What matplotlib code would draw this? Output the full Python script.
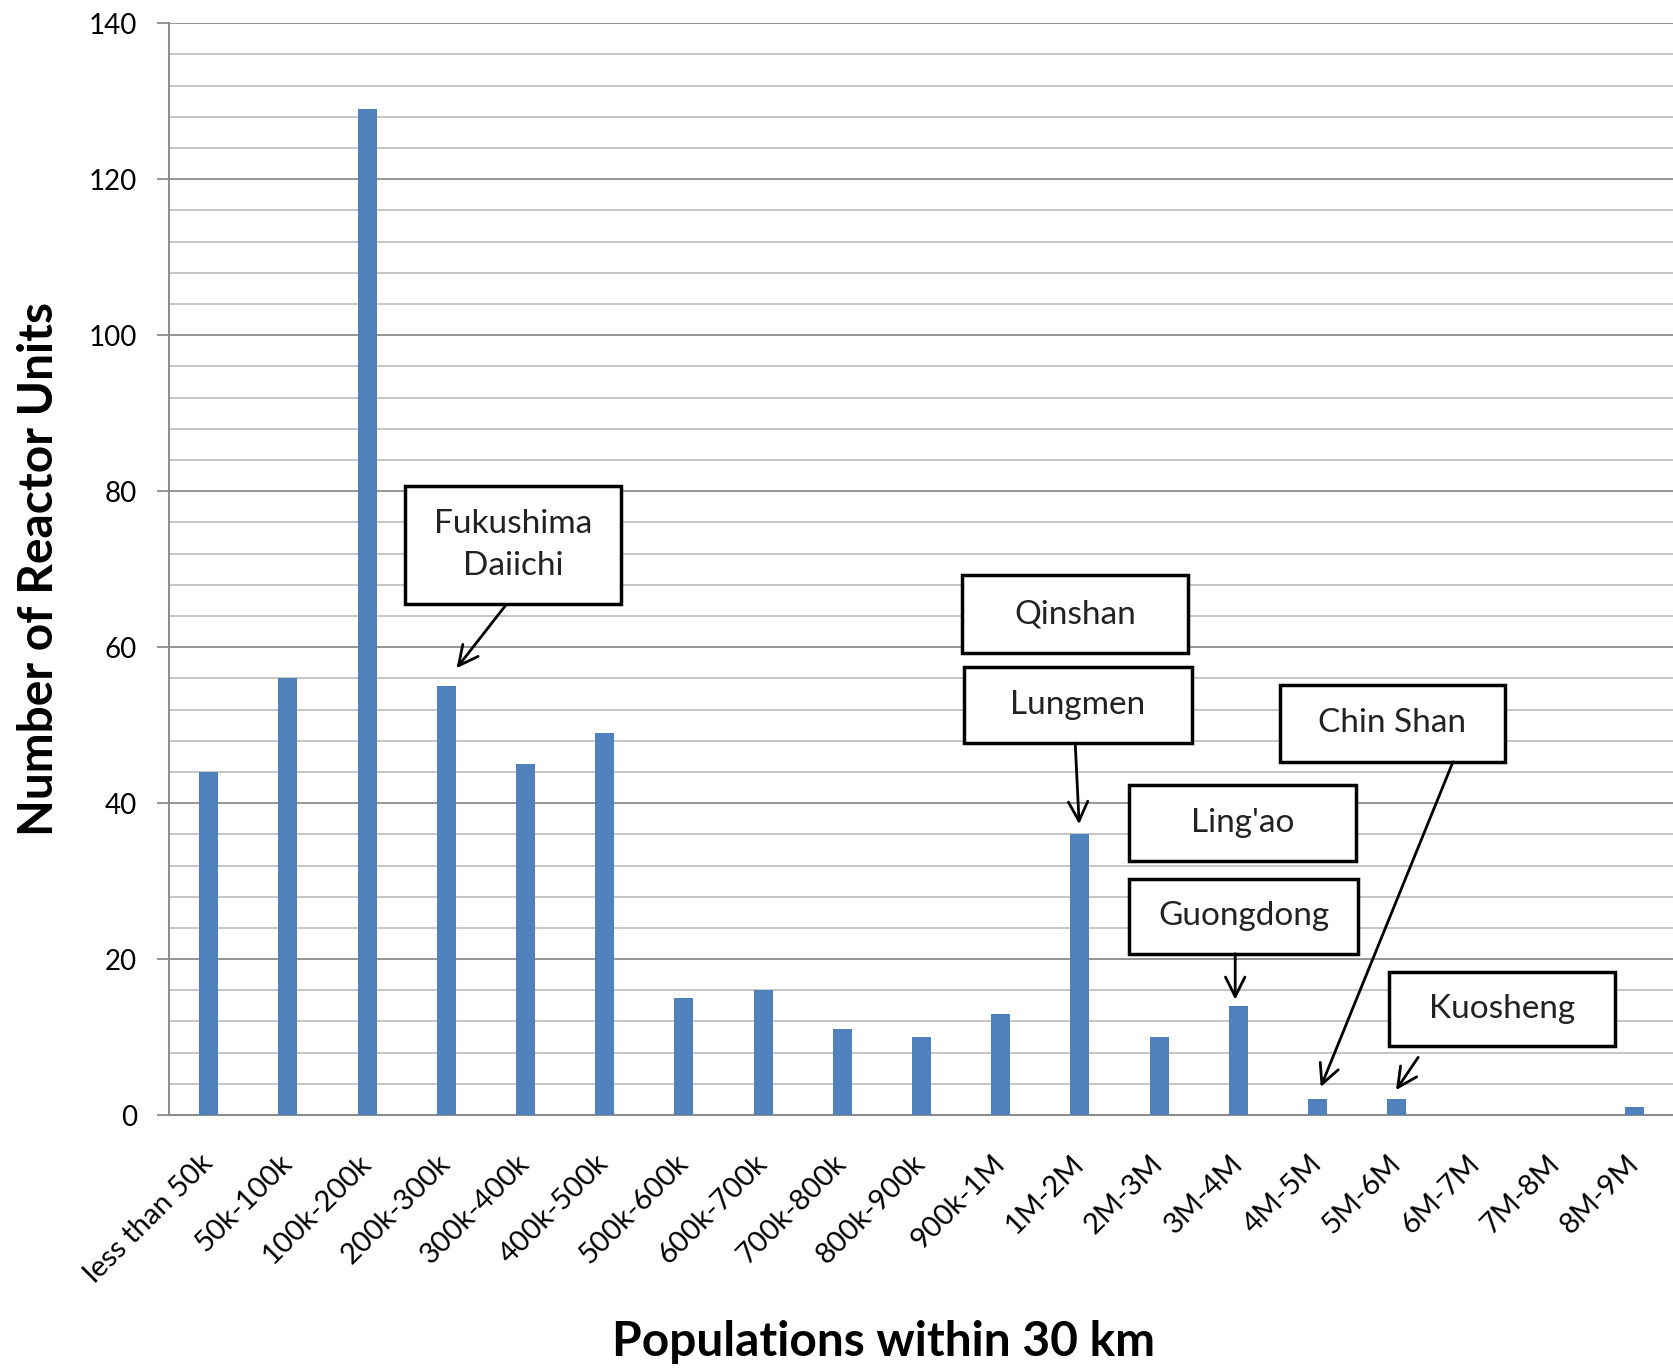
import numpy as np
import matplotlib.pyplot as plt
from matplotlib.patches import Rectangle

plt.rcParams['font.family'] = ['Lato', 'DejaVu Sans']

categories = ["less than 50k", "50k-100k", "100k-200k", "200k-300k", "300k-400k",
              "400k-500k", "500k-600k", "600k-700k", "700k-800k", "800k-900k",
              "900k-1M", "1M-2M", "2M-3M", "3M-4M", "4M-5M", "5M-6M", "6M-7M",
              "7M-8M", "8M-9M"]
units = [44, 56, 129, 55, 45, 49, 15, 16, 11, 10, 13, 36, 10, 14, 2, 2, 0, 0, 1]

# callouts: label, box (x0, x1, y0, y1) in data units, arrow start, arrow tip
callouts = [
    ("Fukushima\nDaiichi", (2.48, 5.21, 65.5, 80.7), (3.76, 65.5), (3.13, 57.3)),
    ("Qinshan", (9.51, 12.37, 59.3, 69.2), None, None),
    ("Lungmen", (9.54, 12.41, 47.7, 57.5), (10.94, 47.7), (10.99, 37.3)),
    ("Chin Shan", (13.52, 16.37, 45.3, 55.2), (15.71, 45.3), (14.04, 3.6)),
    ("Ling'ao", (11.62, 14.49, 32.6, 42.3), None, None),
    ("Guongdong", (11.62, 14.51, 20.7, 30.3), (12.96, 20.7), (12.96, 14.8)),
    ("Kuosheng", (14.90, 17.76, 8.8, 18.4), (15.27, 7.4), (14.99, 3.2)),
]

fig = plt.figure(figsize=(16.74, 13.69), dpi=100)
ax = fig.add_axes([0.101, 0.1855, 0.899, 0.7975])

x = np.arange(len(categories))
ax.bar(x, units, width=0.24, color="#4F81BD", zorder=3)

ax.set_xlim(-0.5, len(categories) - 0.5)
ax.set_ylim(0, 140)
ax.set_yticks(np.arange(0, 141, 20))
ax.set_yticks(np.arange(0, 141, 4), minor=True)
ax.grid(axis="y", which="major", color="#8c8c8c", lw=1.3, zorder=0)
ax.grid(axis="y", which="minor", color="#c0c0c0", lw=1.3, zorder=0)
ax.tick_params(axis="y", which="major", length=9, width=1.3, color="#8c8c8c",
               labelsize=20, pad=14)
ax.tick_params(axis="y", which="minor", length=0)

ax.set_xticks(x)
ax.set_xticklabels(categories, rotation=45, ha="right", va="center",
                   rotation_mode="anchor", fontsize=21)
ax.tick_params(axis="x", length=0, pad=32)

for s in ["top", "right"]:
    ax.spines[s].set_visible(False)
for s in ["left", "bottom"]:
    ax.spines[s].set_color("#8c8c8c")
    ax.spines[s].set_linewidth(1.5)

ax.set_ylabel("Number of Reactor Units", fontsize=34.5, fontweight="bold")
ax.yaxis.set_label_coords(-0.072, 0.5)
ax.set_xlabel("Populations within 30 km", fontsize=34.5, fontweight="bold",
              va="center")
ax.xaxis.set_label_coords(0.475, -0.208)

for label, (x0, x1, y0, y1), start, tip in callouts:
    ax.add_patch(Rectangle((x0, y0), x1 - x0, y1 - y0, facecolor="white",
                           edgecolor="black", lw=2.5, zorder=5))
    ax.text((x0 + x1) / 2, (y0 + y1) / 2, label, ha="center", va="center",
            fontsize=24, linespacing=1.5, color="#222222", zorder=6)
    if start is not None:
        ax.annotate("", xy=tip, xytext=start,
                    arrowprops=dict(arrowstyle="->", lw=2, color="black",
                                    mutation_scale=35, shrinkA=0, shrinkB=0),
                    zorder=6)

fig.savefig("out.png", dpi=100)
